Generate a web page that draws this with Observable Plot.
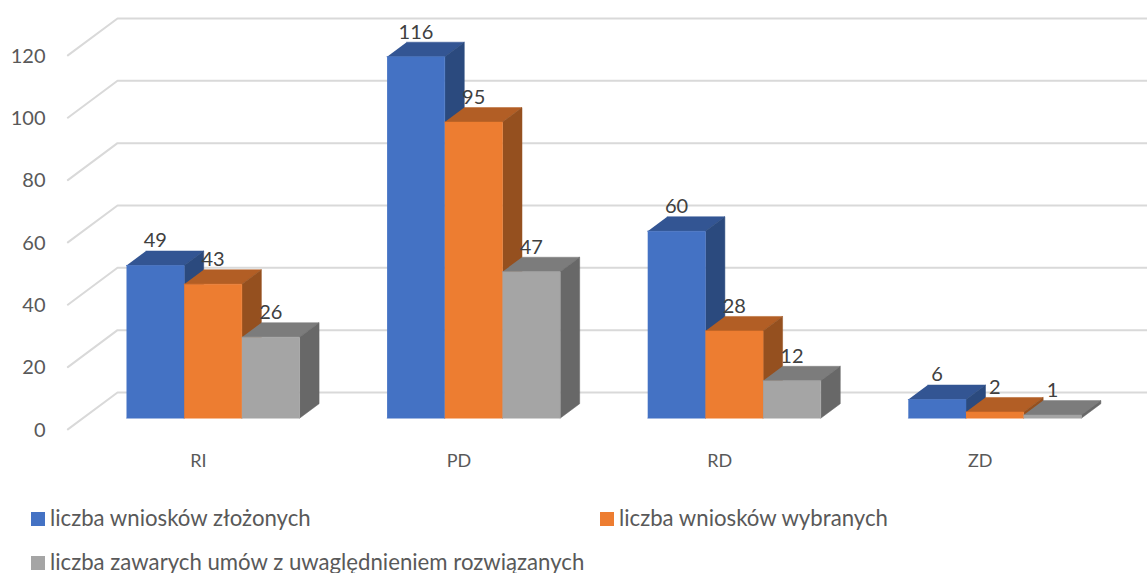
<!DOCTYPE html>
<html><head><meta charset="utf-8">
<script src="https://cdn.jsdelivr.net/npm/d3@7"></script>
<script src="https://cdn.jsdelivr.net/npm/@observablehq/plot@0.6"></script>
<style>
html,body{margin:0;padding:0;background:#fff;overflow:hidden;width:1147px;height:573px}
svg{display:block}
#legend{display:grid;grid-template-columns:569px 569px;grid-auto-rows:20px;row-gap:24px;padding:2px 0 0 31px;font:22.2px/20px Lato,sans-serif;color:#595959}
#legend div{display:flex;align-items:center;white-space:nowrap;position:relative;top:-1px}
#legend i{display:inline-block;width:14px;height:14px;margin-right:5px;flex:none;position:relative;top:1px}
</style></head><body>
<div id="chart"></div><div id="legend"></div>
<script>
const categories = ["RI","PD","RD","ZD"];
const seriesNames = ["liczba wniosków złożonych","liczba wniosków wybranych","liczba zawarych umów z uwaględnieniem rozwiązanych"];
const submitted = [49,116,60,6];
const selected = [43,95,28,2];
const signed = [26,47,12,1];
const yTicks = [0,20,40,60,80,100,120];
const frontColors = ["#4472C4","#ED7D31","#A5A5A5"];
const topColors = ["#335593","#B25E25","#7C7C7C"];
const sideColors = ["#2B4A7E","#95501F","#686868"];

const allSeries = [submitted,selected,signed];
const barW = 0.2214, depthX = 0.0748, depthY = 4.65;
const faces = [];
categories.forEach((c,i)=>{
  allSeries.forEach((s,j)=>{
    const v = s[i], a = i+j*barW, b = a+barW;
    const add = (name,color,pts)=>pts.forEach(([x,y])=>faces.push({id:`${c}-${j}-${name}`,x,y,color}));
    add("top",topColors[j],[[a,v],[b,v],[b+depthX,v+depthY],[a+depthX,v+depthY]]);
    add("side",sideColors[j],[[b,0],[b+depthX,depthY],[b+depthX,v+depthY],[b,v]]);
    add("front",frontColors[j],[[a,0],[b,0],[b,v],[a,v]]);
  });
});
const grid = yTicks.flatMap(t=>[
  {t,x:-0.225,y:t-3.6},{t,x:-0.0345,y:t+8.25},{t,x:3.97,y:t+8.25}
]);
const labels = categories.flatMap((c,i)=>allSeries.map((s,j)=>({
  x:i+j*barW+barW/2, y:s[i]+depthY, v:s[i]
})));
const catOffset = 0.276;

const plot = Plot.plot({
  width:1147,height:507,
  marginLeft:45,marginBottom:53,marginTop:0,marginRight:0,
  style:{background:"#fff",fontFamily:"Lato,sans-serif"},
  x:{type:"linear",domain:[0,4],range:[126,1168.4]},
  y:{type:"linear",domain:[0,120],range:[417.7,43.7]},
  color:{type:"identity"},
  marks:[
    Plot.line(grid,{x:"x",y:"y",z:"t",stroke:"#d9d9d9",strokeWidth:2}),
    Plot.line(faces,{x:"x",y:"y",z:"id",fill:"color",stroke:"color",strokeWidth:0.5}),
    Plot.axisY({ticks:yTicks,tickSize:0,tickPadding:0,dy:12,fontSize:20,color:"#595959",label:null}),
    Plot.axisX({ticks:categories.map((c,i)=>i+catOffset),tickFormat:d=>categories[Math.round(d-catOffset)],tickSize:0,tickPadding:0,fontSize:18,color:"#595959",label:null}),
    Plot.text(labels,{x:"x",y:"y",text:"v",dy:-10,fontSize:20,fill:"#404040"})
  ]
});
document.getElementById("chart").append(plot);
const lg = document.getElementById("legend");
seriesNames.forEach((n,i)=>{
  const d = document.createElement("div");
  const sw = document.createElement("i"); sw.style.background = frontColors[i];
  d.append(sw, document.createTextNode(n));
  lg.append(d);
});
</script>
</body></html>
